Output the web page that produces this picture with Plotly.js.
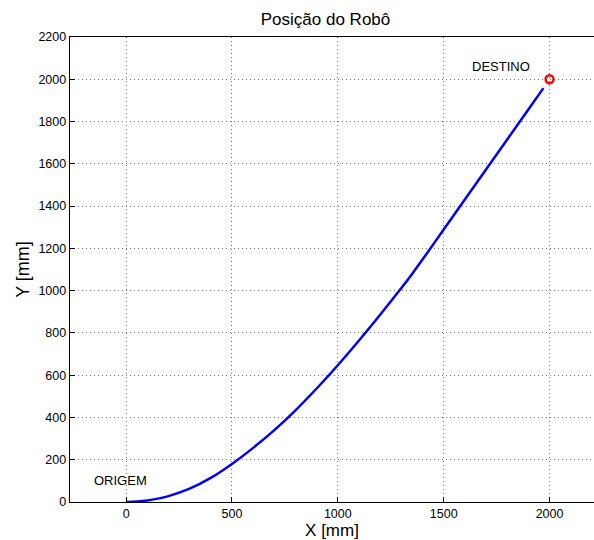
<!DOCTYPE html>
<html>
<head>
<meta charset="utf-8">
<script src="https://cdn.plot.ly/plotly-3.0.1.min.js"></script>
<style>html,body{margin:0;padding:0;overflow:hidden;background:#fff;}</style>
</head>
<body>
<div id="chart" style="width:594px;height:540px;"></div>
<script>
// Robot path (mm)
const pathX = [0, 50, 100, 150, 200, 300, 400, 500, 600, 700, 800, 900, 1000, 1100, 1200, 1300, 1350, 1400, 1500, 1600, 1700, 1800, 1900, 1971];
const pathY = [0, 2, 7, 16, 28, 63, 114, 180, 256, 340, 434, 537, 647, 764, 886, 1012, 1078, 1147, 1289, 1431, 1573, 1715, 1857, 1958];
const targetX = [2000];
const targetY = [2000];
const xTicks = [0, 500, 1000, 1500, 2000];
const yTicks = [0, 200, 400, 600, 800, 1000, 1200, 1400, 1600, 1800, 2000, 2200];
const labels = [
  {text: 'ORIGEM', x: -28, y: 104},
  {text: 'DESTINO', x: 1772, y: 2062}
];

const font = 'Liberation Sans, Arial, sans-serif';
const traces = [
  {x: pathX, y: pathY, mode: 'lines', type: 'scatter',
   line: {color: '#0000ff', width: 2.5, shape: 'spline', smoothing: 0.8}, hoverinfo: 'skip'},
  {x: targetX, y: targetY, mode: 'markers', type: 'scatter',
   marker: {symbol: 'circle-open', size: 8, color: '#ff0000', line: {width: 2.4, color: '#ff0000'}}}
];
const axisCommon = {
  showgrid: true, griddash: '1px,3px', gridcolor: '#777777', gridwidth: 1,
  zeroline: false, showline: true, linecolor: '#000', linewidth: 1.3,
  ticks: 'inside', ticklen: 5, tickcolor: '#000',
  tickfont: {family: font, size: 12.5, color: '#000'}
};
const layout = {
  width: 594, height: 540,
  margin: {l: 70, r: 0, t: 37, b: 38},
  paper_bgcolor: '#fff', plot_bgcolor: '#fff',
  showlegend: false,
  title: {text: 'Posição do Robô', font: {family: font, size: 17, color: '#000'}, x: 0.548, xanchor: 'center', xref: 'container', y: 1 - 19/540, yanchor: 'middle', yref: 'container'},
  xaxis: Object.assign({}, axisCommon, {
    range: [-265, 2210], tickvals: xTicks, ticktext: xTicks.map(String), mirror: true,
    title: {text: 'X [mm]', font: {family: font, size: 17, color: '#000'}, standoff: 3}
  }),
  yaxis: Object.assign({}, axisCommon, {
    range: [0, 2200], tickvals: yTicks, ticktext: yTicks.map(String),
    title: {text: 'Y [mm]', font: {family: font, size: 18, color: '#000'}, standoff: 4}
  }),
  annotations: labels.map(l => ({
    text: l.text, x: l.x, y: l.y, xref: 'x', yref: 'y', showarrow: false,
    font: {family: font, size: 13, color: '#000'}, xanchor: 'center', yanchor: 'middle'
  }))
};
Plotly.newPlot('chart', traces, layout, {displayModeBar: false, staticPlot: true});
</script>
</body>
</html>
